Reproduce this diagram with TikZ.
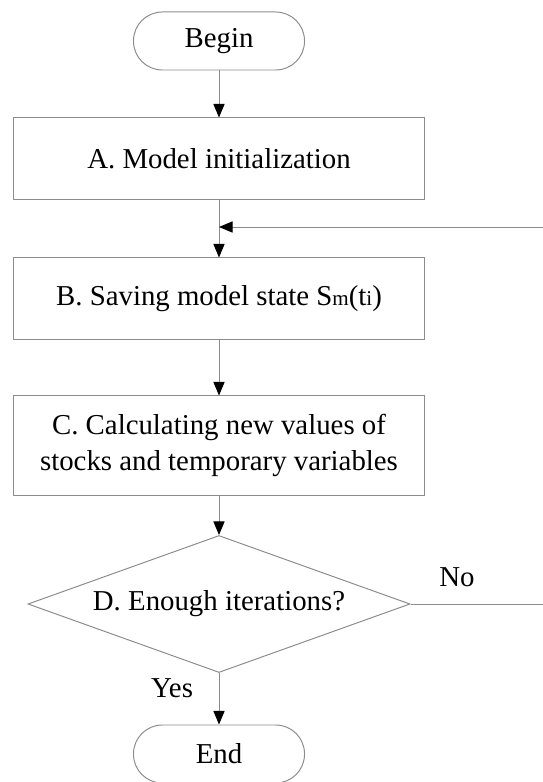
\documentclass[tikz,border=0pt]{standalone}
\usepackage{fontspec}
\setmainfont{Liberation Serif}
\usetikzlibrary{arrows.meta,shapes.geometric}

\tikzset{
	flowline/.style = {draw=black!45, line width=0.7pt},
	flowarrow/.style = {flowline, -{Triangle[color=black,length=0.34cm,width=0.28cm]}},
	terminal/.style = {flowline, rectangle, rounded corners=0.72cm,
		minimum width=4.275cm, minimum height=1.45cm},
	process/.style = {flowline, rectangle, align=center,
		minimum width=10.275cm, minimum height=2.025cm},
	decision/.style = {flowline, diamond, aspect=2.79, inner sep=0pt,
		minimum width=9.55cm, minimum height=3.425cm}
}

\begin{document}
\begin{tikzpicture}[x=0.025cm, y=-0.025cm, font=\fontsize{20.5}{26}\selectfont]
	\useasboundingbox (0,0) rectangle (543,782);
		\node[terminal] (begin) at (219,41) {Begin};
		\node[process] (init) at (219,158.5) {A. Model initialization};
		\node[process] (save) at (219,298.5) {B. Saving model state S{\fontsize{15}{15}\selectfont m}(t{\fontsize{15}{15}\selectfont i})};
		\node[process, minimum height=2.475cm] (calc) at (219,445.5)
			{C. Calculating new values of\\stocks and temporary variables};
		\node[decision] (check) at (219,604) {D. Enough iterations?};
		\node[terminal] (end) at (219,754) {End};
	% loop back from the decision
		\coordinate (back) at (219,227);
		\coordinate (noEnd) at (543,604);
		\coordinate (backEnd) at (543,227);
		\draw[flowarrow] (begin) -- (init);
		\draw[flowarrow] (init) -- (save);
		\draw[flowarrow] (save) -- (calc);
		\draw[flowarrow] (calc) -- (check);
		\draw[flowarrow] (check) -- (end);
		\draw[flowline] (check.east) -- (noEnd);
		\draw[flowarrow] (backEnd) -- (back);
		\node (no) at (457,577) {No};
		\node (yes) at (172,688) {Yes};
\end{tikzpicture}
\end{document}
